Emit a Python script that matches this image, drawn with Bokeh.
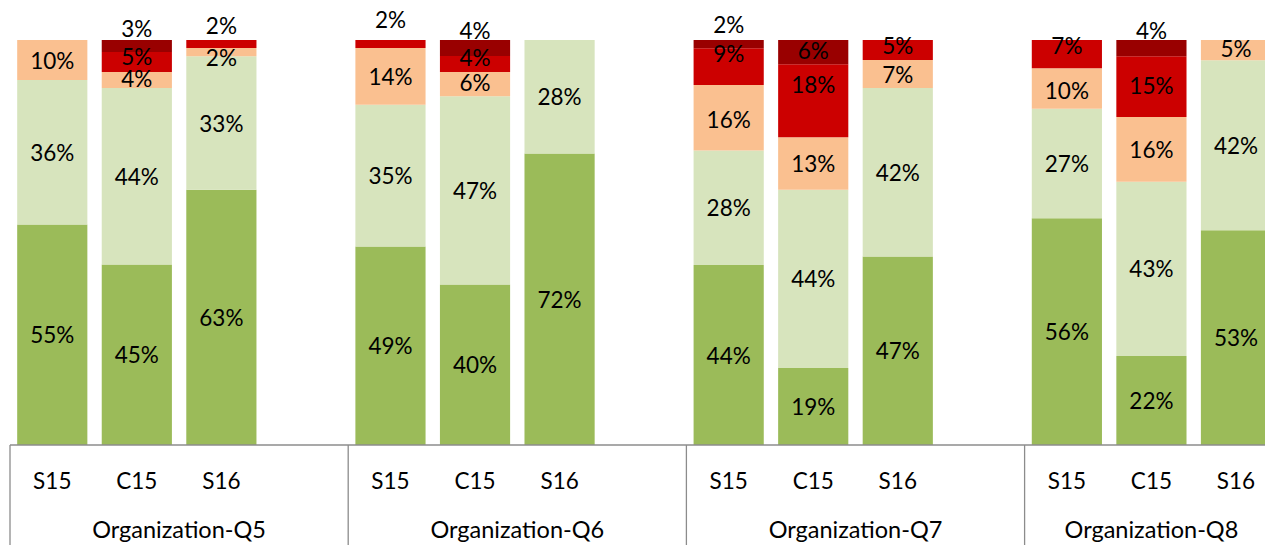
import numpy as np
from bokeh.plotting import figure
from bokeh.models import Range1d, ColumnDataSource
from bokeh.core.properties import value
from bokeh.embed import file_html
from bokeh.resources import INLINE

# ---------------- data ----------------
groups = ["Organization-Q5", "Organization-Q6", "Organization-Q7", "Organization-Q8"]
surveys = ["S15", "C15", "S16"]

# one value per bar, in order Q5(S15,C15,S16), Q6(...), Q7(...), Q8(...)
very_positive = [55, 45, 63, 49, 40, 72, 44, 19, 47, 56, 22, 53]
positive      = [36, 44, 33, 35, 47, 28, 28, 44, 42, 27, 43, 42]
neutral       = [10, 4, 2, 14, 6, 0, 16, 13, 7, 10, 16, 5]
negative      = [0, 5, 2, 2, 4, 0, 9, 18, 5, 7, 15, 0]
very_negative = [0, 3, 0, 0, 4, 0, 2, 6, 0, 0, 4, 0]

series = [very_positive, positive, neutral, negative, very_negative]

# ---------------- style ----------------
colors = ["#9BBB59", "#D7E4BD", "#FAC090", "#CC0000", "#990000"]
FONT = "Lato"
LABEL_SIZE = "22.5px"
GROUP_SIZE = "23.5px"
AXIS_COLOR = "#8C8C8C"
slots_per_group = [4, 4, 4, 3]  # category slots (last slot of first groups is blank)
BAR_WIDTH = 0.83
PX_PER_X = 84.55
PX_PER_Y = 4.05
X0_PX = 9.5      # left divider, px
Y0_PX = 444.5    # zero line, px

# label nudges (screen px) for small segments: (bar index, series index) -> dy
label_dy = {
    (1, 2): -2, (1, 3): -6, (1, 4): -18,
    (2, 2): 5, (2, 3): -19,
    (3, 3): -25,
    (4, 2): -2, (4, 3): -6.5, (4, 4): -18,
    (6, 2): 2, (6, 3): -13, (6, 4): -19.5,
    (7, 3): -16, (7, 4): -1.5,
    (8, 3): -4.5,
    (9, 2): 2, (9, 3): -8.7,
    (10, 3): -1, (10, 4): -17.6,
    (11, 2): -2,
}

W, H = 1265, 545
x_range = Range1d((0 - X0_PX) / PX_PER_X, (W - X0_PX) / PX_PER_X)
y_range = Range1d((Y0_PX - H) / PX_PER_Y, Y0_PX / PX_PER_Y)

p = figure(width=W, height=H, x_range=x_range, y_range=y_range,
           output_backend="svg", toolbar_location=None,
           x_axis_location=None, y_axis_location=None,
           min_border=0, outline_line_color=None,
           background_fill_color="white", border_fill_color="white")
p.grid.visible = False

# bar positions
xs = []
for g in range(len(groups)):
    for i in range(len(surveys)):
        xs.append(4 * g + 0.5 + i)
xs = np.array(xs)

vals = np.array(series, dtype=float)           # (5, 12)
totals = vals.sum(axis=0)
norm = vals / totals * 100.0
tops = np.cumsum(norm, axis=0)
bottoms = tops - norm

lab_x, lab_y, lab_t, lab_dy = [], [], [], []
for k in range(len(series)):
    mask = vals[k] > 0
    src = ColumnDataSource(dict(x=xs[mask], bottom=bottoms[k][mask], top=tops[k][mask]))
    p.vbar(x="x", width=BAR_WIDTH, bottom="bottom", top="top", source=src,
           fill_color=colors[k], line_color=None)
    for b in np.where(mask)[0]:
        lab_x.append(xs[b])
        lab_y.append((bottoms[k][b] + tops[k][b]) / 2)
        lab_t.append(f"{int(vals[k][b])}%")
        lab_dy.append(label_dy.get((int(b), k), 0))

p.text(x=lab_x, y=lab_y, text=lab_t, y_offset=lab_dy,
       text_font=value(FONT), text_font_size=LABEL_SIZE,
       text_align="center", text_baseline="middle", text_color="black")

# axis line and separators
y_bottom = y_range.start
x_end = x_range.end
p.segment(x0=[0], y0=[0], x1=[x_end], y1=[0], line_color=AXIS_COLOR, line_width=1.3)
sep_x = [4 * g for g in range(len(groups))]
p.segment(x0=sep_x, y0=[0] * len(sep_x), x1=sep_x, y1=[y_bottom] * len(sep_x),
          line_color=AXIS_COLOR, line_width=1.3)

# tick labels
tick_y = (Y0_PX - 479.5) / PX_PER_Y
p.text(x=list(xs), y=[tick_y] * len(xs), text=surveys * len(groups),
       text_font=value(FONT), text_font_size=LABEL_SIZE,
       text_align="center", text_baseline="middle", text_color="black")

# group labels
grp_y = (Y0_PX - 528.5) / PX_PER_Y
grp_x = [4 * g + slots_per_group[g] / 2 for g in range(len(groups))]
p.text(x=grp_x, y=[grp_y] * len(groups), text=groups,
       text_font=value(FONT), text_font_size=GROUP_SIZE,
       text_align="center", text_baseline="middle", text_color="black")

open("out.html", "w").write(file_html(p, INLINE))
